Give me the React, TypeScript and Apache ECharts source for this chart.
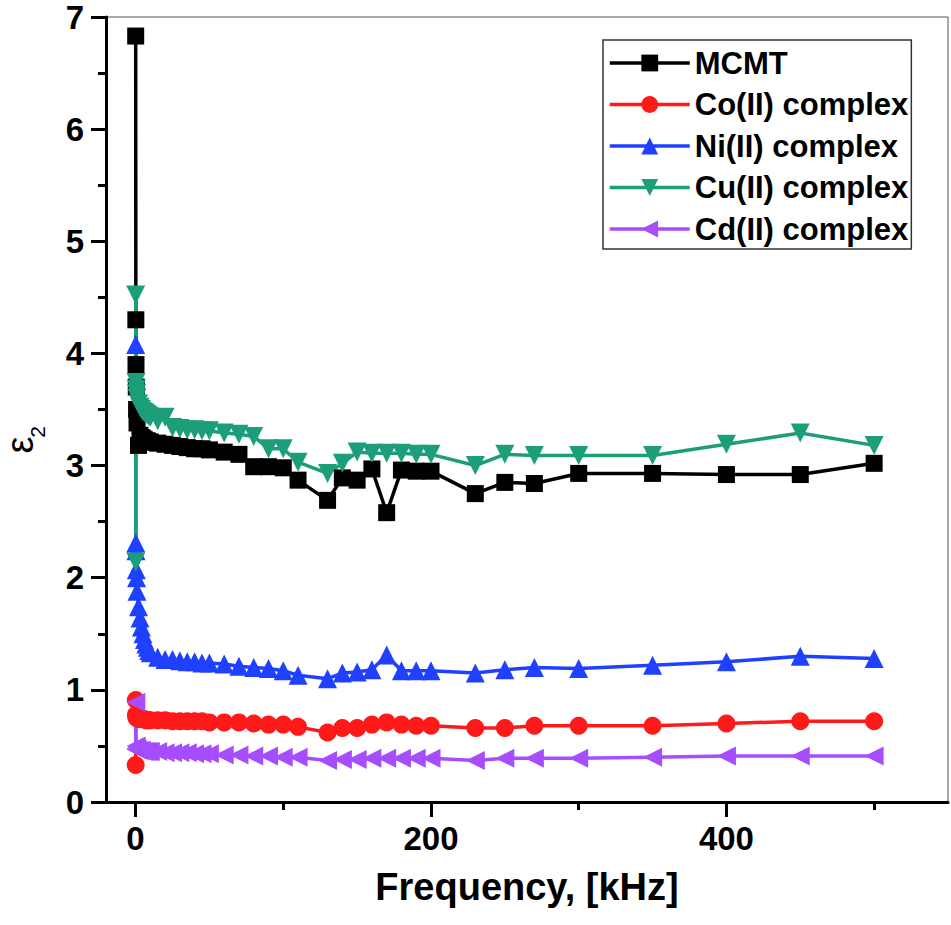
import { useEffect, useRef } from 'react';
import * as echarts from 'echarts';

const frequencies = [0.1, 0.2, 0.3, 0.5, 0.7, 1, 2, 3, 4, 5, 6, 7, 8, 9, 10, 15, 20, 25, 30, 35, 40, 45, 50, 60, 70, 80, 90, 100, 110, 130, 140, 150, 160, 170, 180, 190, 200, 230, 250, 270, 300, 350, 400, 450, 500];

const mcmt = [6.83, 4.30, 3.90, 3.70, 3.50, 3.38, 3.18, 3.27, 3.25, 3.24, 3.23, 3.22, 3.22, 3.21, 3.21, 3.20, 3.19, 3.18, 3.17, 3.16, 3.15, 3.15, 3.14, 3.12, 3.10, 2.99, 2.99, 2.98, 2.87, 2.69, 2.89, 2.87, 2.97, 2.58, 2.96, 2.95, 2.95, 2.75, 2.85, 2.84, 2.93, 2.93, 2.92, 2.92, 3.02];
const coComplex = [0.33, 0.91, 0.78, 0.76, 0.75, 0.75, 0.74, 0.74, 0.74, 0.74, 0.74, 0.73, 0.73, 0.73, 0.73, 0.73, 0.73, 0.72, 0.72, 0.72, 0.72, 0.72, 0.71, 0.71, 0.71, 0.70, 0.69, 0.69, 0.67, 0.62, 0.66, 0.66, 0.69, 0.71, 0.69, 0.68, 0.68, 0.66, 0.66, 0.68, 0.68, 0.68, 0.70, 0.72, 0.72];
const niComplex = [4.08, 2.31, 2.24, 2.07, 2.00, 1.88, 1.74, 1.64, 1.56, 1.50, 1.45, 1.41, 1.38, 1.35, 1.33, 1.29, 1.27, 1.27, 1.26, 1.25, 1.25, 1.24, 1.24, 1.23, 1.21, 1.20, 1.19, 1.17, 1.13, 1.10, 1.15, 1.16, 1.18, 1.31, 1.17, 1.17, 1.17, 1.15, 1.18, 1.20, 1.19, 1.22, 1.25, 1.30, 1.28];
const cuComplex = [4.52, 2.14, 3.74, 3.68, 3.64, 3.60, 3.55, 3.52, 3.50, 3.48, 3.47, 3.46, 3.45, 3.44, 3.43, 3.40, 3.43, 3.34, 3.33, 3.32, 3.32, 3.31, 3.31, 3.29, 3.28, 3.26, 3.15, 3.15, 3.03, 2.93, 3.02, 3.12, 3.11, 3.11, 3.11, 3.10, 3.10, 3.00, 3.10, 3.09, 3.09, 3.09, 3.19, 3.29, 3.18];
const cdComplex = [0.47, 0.89, 0.50, 0.48, 0.47, 0.47, 0.46, 0.46, 0.46, 0.45, 0.45, 0.45, 0.45, 0.45, 0.45, 0.45, 0.44, 0.44, 0.44, 0.44, 0.43, 0.43, 0.43, 0.42, 0.42, 0.41, 0.41, 0.40, 0.40, 0.37, 0.38, 0.38, 0.39, 0.39, 0.39, 0.39, 0.39, 0.37, 0.39, 0.39, 0.39, 0.40, 0.41, 0.41, 0.41];

const seriesNames = ['MCMT', 'Co(II) complex', 'Ni(II) complex', 'Cu(II) complex', 'Cd(II) complex'];
const seriesValues = [mcmt, coComplex, niComplex, cuComplex, cdComplex];
const seriesColors = ['#000000', '#ff1a1a', '#2040ff', '#1d9e7a', '#a64dff'];
const seriesSymbols = ['rect', 'circle', 'triangle', 'triangle', 'triangle'];
const seriesRotate = [0, 0, 0, 180, 90];
const seriesSizes = [17, 18, 19, 19, 19];

const xMajorTicks = [0, 200, 400];
const xMinorTicks = [100, 300, 500];

const FONT = "'Liberation Sans', Arial, sans-serif";

export default function App() {
  const ref = useRef<HTMLDivElement>(null);
  useEffect(() => {
    if (!ref.current) return;
    const chart = echarts.init(ref.current, null, { renderer: 'svg' });
    const axisLineStyle = { color: '#000', width: 3 };
    const option = {
      animation: false,
      backgroundColor: '#fff',
      grid: {
        left: 106, right: 3, top: 17, bottom: 123,
        show: true, borderColor: '#555', borderWidth: 1, backgroundColor: 'transparent',
      },
      legend: {
        left: 603, top: 40, orient: 'vertical',
        padding: [5, 3, 2, 5],
        itemWidth: 80, itemHeight: 21, itemGap: 5.5,
        borderColor: '#333', borderWidth: 1.5,
        lineStyle: { width: 3.5 },
        textStyle: { fontFamily: FONT, fontWeight: 'bold', fontSize: 31, color: '#000', lineHeight: 36 },
        data: seriesNames,
      },
      xAxis: [
        {
          type: 'value', min: -20, max: 550, position: 'bottom',
          name: 'Frequency, [kHz]', nameLocation: 'middle', nameGap: 66,
          nameTextStyle: { fontFamily: FONT, fontWeight: 'bold', fontSize: 38, color: '#000' },
          axisLine: { show: true, onZero: false, lineStyle: axisLineStyle },
          axisTick: { show: true, customValues: xMajorTicks, length: 15, lineStyle: axisLineStyle },
          axisLabel: { show: true, customValues: xMajorTicks, margin: 20, fontFamily: FONT, fontWeight: 'bold', fontSize: 33, color: '#000' },
          splitLine: { show: false },
        },
        {
          type: 'value', min: -20, max: 550, position: 'bottom',
          axisLine: { show: false },
          axisTick: { show: true, customValues: xMinorTicks, length: 8, lineStyle: axisLineStyle },
          axisLabel: { show: false },
          splitLine: { show: false },
        },
      ],
      yAxis: {
        type: 'value', min: 0, max: 7, interval: 1,
        axisLine: { show: true, onZero: false, lineStyle: axisLineStyle },
        axisTick: { show: true, length: 15, lineStyle: axisLineStyle },
        minorTick: { show: true, splitNumber: 2, length: 8, lineStyle: axisLineStyle },
        axisLabel: { margin: 22, fontFamily: FONT, fontWeight: 'bold', fontSize: 33, color: '#000' },
        splitLine: { show: false },
        minorSplitLine: { show: false },
      },
      graphic: [
        {
          type: 'text', x: 20, y: 445, rotation: Math.PI / 2,
          style: { text: 'ε', fontFamily: FONT, fontSize: 38, fill: '#000', textAlign: 'center', textVerticalAlign: 'middle' },
        },
        {
          type: 'text', x: 37, y: 432, rotation: Math.PI / 2,
          style: { text: '2', fontFamily: FONT, fontSize: 21, fill: '#000', textAlign: 'center', textVerticalAlign: 'middle' },
        },
      ],
      series: seriesNames.map((name, i) => ({
        name,
        type: 'line',
        xAxisIndex: 0,
        data: frequencies.map((f, j) => [f, seriesValues[i][j]]),
        symbol: seriesSymbols[i],
        symbolRotate: seriesRotate[i],
        symbolSize: seriesSizes[i],
        showSymbol: true,
        showAllSymbol: true,
        lineStyle: { color: seriesColors[i], width: 3.5 },
        itemStyle: { color: seriesColors[i] },
        emphasis: { disabled: true },
      })),
    };
    chart.setOption(option as any);
    return () => chart.dispose();
  }, []);
  return <div ref={ref} style={{ position: 'absolute', left: 0, top: 0, width: 951, height: 925 }} />;
}
